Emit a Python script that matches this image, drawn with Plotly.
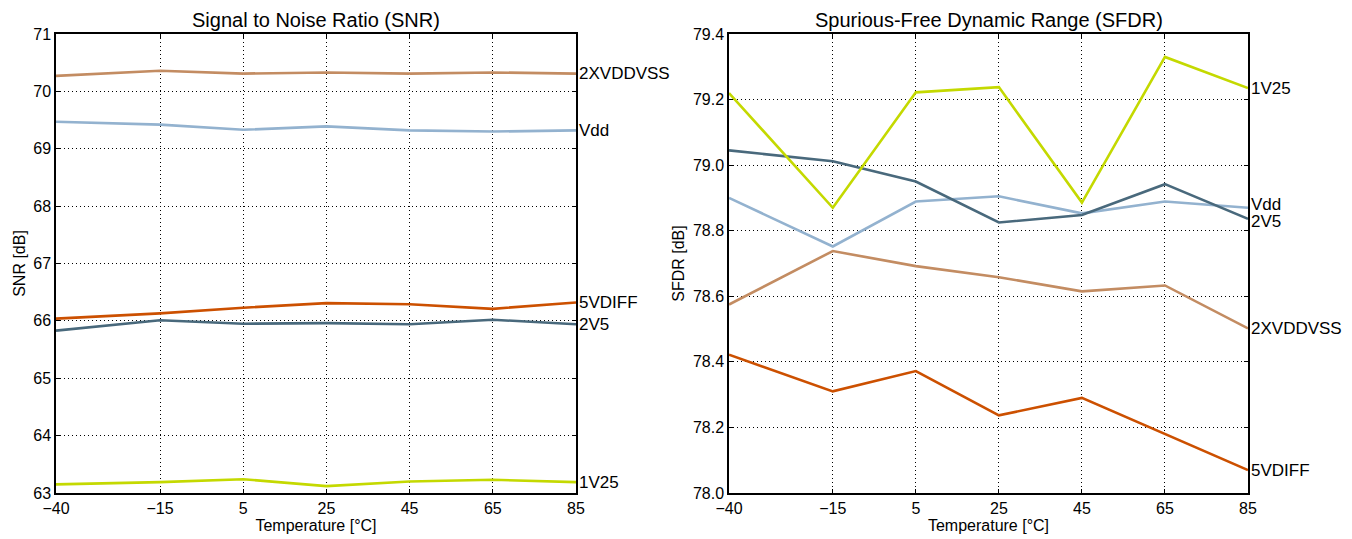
import plotly.graph_objects as go

temps = [-40, -15, 5, 25, 45, 65, 85]
x_ticktext = ["\u221240", "\u221215", "5", "25", "45", "65", "85"]

series_names = ["2XVDDVSS", "Vdd", "5VDIFF", "2V5", "1V25"]
series_colors = ["#c38c62", "#93b2cf", "#cc5000", "#49697c", "#c4d900"]

snr_2xvddvss = [70.27, 70.36, 70.31, 70.33, 70.31, 70.33, 70.31]
snr_vdd = [69.47, 69.42, 69.33, 69.39, 69.32, 69.30, 69.32]
snr_5vdiff = [66.04, 66.13, 66.23, 66.31, 66.29, 66.21, 66.32]
snr_2v5 = [65.83, 66.01, 65.95, 65.96, 65.94, 66.02, 65.94]
snr_1v25 = [63.15, 63.19, 63.24, 63.12, 63.20, 63.23, 63.19]

sfdr_2xvddvss = [78.575, 78.738, 78.692, 78.658, 78.615, 78.633, 78.502]
sfdr_vdd = [78.900, 78.752, 78.889, 78.905, 78.853, 78.889, 78.870]
sfdr_5vdiff = [78.422, 78.310, 78.372, 78.237, 78.290, 78.180, 78.070]
sfdr_2v5 = [79.045, 79.012, 78.950, 78.825, 78.848, 78.942, 78.836]
sfdr_1v25 = [79.220, 78.870, 79.222, 79.238, 78.886, 79.330, 79.235]

snr_ticks = [63, 64, 65, 66, 67, 68, 69, 70, 71]
sfdr_ticks = [78.0, 78.2, 78.4, 78.6, 78.8, 79.0, 79.2, 79.4]

snr_data = [snr_2xvddvss, snr_vdd, snr_5vdiff, snr_2v5, snr_1v25]
sfdr_data = [sfdr_2xvddvss, sfdr_vdd, sfdr_5vdiff, sfdr_2v5, sfdr_1v25]

FONT = "Liberation Sans, Arial, sans-serif"
OFF = 8  # page body margin
W, H = 1352 - OFF, 539 - OFF
# target page pixel positions of plot boxes
L1, R1, L2, R2, TOP, BOT = 56, 576, 729, 1248, 33.5, 493
ML, MT = L1 - OFF, TOP - OFF
MR = W - (R2 - OFF)
MB = H - (BOT - OFF)
PW = W - ML - MR
PH = H - MT - MB

fig = go.Figure()

for name, color, vals in zip(series_names, series_colors, snr_data):
    fig.add_trace(go.Scatter(x=temps, y=vals, mode="lines", name=name,
                             line=dict(color=color, width=2.6),
                             xaxis="x", yaxis="y", showlegend=False))
for name, color, vals in zip(series_names, series_colors, sfdr_data):
    fig.add_trace(go.Scatter(x=temps, y=vals, mode="lines", name=name,
                             line=dict(color=color, width=2.6),
                             xaxis="x2", yaxis="y2", showlegend=False))

label_font = dict(family=FONT, size=17, color="black")
sfdr_yshift = {"Vdd": 3, "2V5": -3}
annotations = []
for name, vals in zip(series_names, snr_data):
    annotations.append(dict(x=temps[-1], y=vals[-1], xref="x", yref="y", text=name,
                            showarrow=False, xanchor="left", yanchor="middle", xshift=1,
                            font=label_font))
for name, vals in zip(series_names, sfdr_data):
    annotations.append(dict(x=temps[-1], y=vals[-1], xref="x2", yref="y2", text=name,
                            showarrow=False, xanchor="left", yanchor="middle", xshift=1,
                            yshift=sfdr_yshift.get(name, 0), font=label_font))

title_font = dict(family=FONT, size=20, color="black")
for text, cx in [("Signal to Noise Ratio (SNR)", (L1 + R1) / 2),
                 ("Spurious-Free Dynamic Range (SFDR)", (L2 + R2) / 2)]:
    annotations.append(dict(x=(cx - L1) / PW, y=1 + (TOP - 19) / PH,
                            xref="paper", yref="paper", text=text, showarrow=False,
                            xanchor="center", yanchor="middle", font=title_font))

tick_font = dict(family=FONT, size=16, color="black")
axis_title_font = dict(family=FONT, size=16, color="black")
grid_dash = "1px,3px"

common_x = dict(range=[-40, 85], tickvals=temps, ticktext=x_ticktext,
                showgrid=True, gridcolor="black", griddash=grid_dash, gridwidth=1,
                showline=True, linecolor="black", linewidth=1.5, mirror="ticks",
                ticks="inside", ticklen=4, tickcolor="black", zeroline=False,
                automargin=False, tickfont=tick_font,
                title=dict(text="Temperature [\u00b0C]", standoff=2, font=axis_title_font))
common_y = dict(showgrid=True, gridcolor="black", griddash=grid_dash, gridwidth=1,
                showline=True, linecolor="black", linewidth=1.5, mirror="ticks",
                ticks="inside", ticklen=4, tickcolor="black", zeroline=False,
                automargin=False, tickfont=tick_font)

fig.update_layout(
    width=W, height=H,
    margin=dict(l=ML, r=MR, t=MT, b=MB, pad=0),
    paper_bgcolor="white", plot_bgcolor="white",
    xaxis=dict(domain=[0, (R1 - L1) / PW], anchor="y", **common_x),
    xaxis2=dict(domain=[(L2 - L1) / PW, 1], anchor="y2", **common_x),
    yaxis=dict(domain=[0, 1], anchor="x", range=[63, 71], tickvals=snr_ticks,
               title=dict(text="SNR [dB]", standoff=4, font=axis_title_font),
               **common_y),
    yaxis2=dict(domain=[0, 1], anchor="x2", range=[78.0, 79.4], tickvals=sfdr_ticks,
                tickformat=".1f",
                title=dict(text="SFDR [dB]", standoff=4, font=axis_title_font),
                **common_y),
    annotations=annotations,
)

fig.write_html("out.html")
